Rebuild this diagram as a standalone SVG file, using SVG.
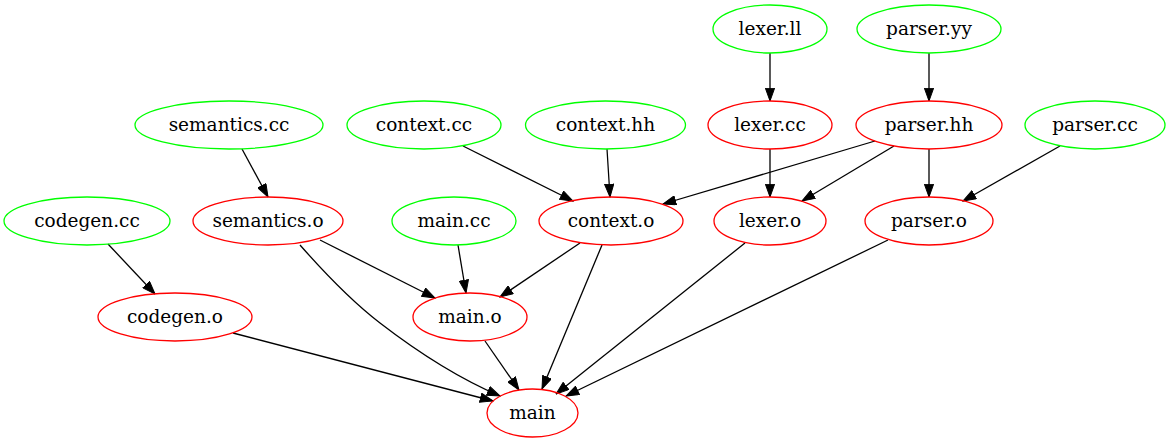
<svg xmlns="http://www.w3.org/2000/svg" width="1171" height="443" viewBox="0 0 1171 443">
<style>
.src ellipse{fill:none;stroke:#00ff00;stroke-width:1.3}
.obj ellipse{fill:none;stroke:#ff0000;stroke-width:1.3}
text{font-family:"DejaVu Serif",serif;font-size:18.5px;fill:#000;text-anchor:middle}
#edges path{fill:none;stroke:#000;stroke-width:1.3;marker-end:url(#arr)}
</style>
<defs>
<marker id="arr" viewBox="0 0 14 10" refX="13.3" refY="5" markerWidth="14" markerHeight="10" markerUnits="userSpaceOnUse" orient="auto">
<path d="M0.5,0.4 L13.3,5 L0.5,9.6 z" fill="#000" stroke="#000" stroke-width="1"/>
</marker>
</defs>
<rect width="1171" height="443" fill="#fff"/>
<g id="edges">
<path d="M770,53 L770,101"/>
<path d="M929,53 L929,101"/>
<path d="M242,149 L268,197"/>
<path d="M108,244 L155,294"/>
<path d="M463,146 L573,201"/>
<path d="M607,149 L610,197"/>
<path d="M875,141 L663,204"/>
<path d="M770,149 L770,197"/>
<path d="M894,146 L802,201"/>
<path d="M929,149 L929,197"/>
<path d="M1060,146 L963,201"/>
<path d="M320,240 L435,298"/>
<path d="M458,245 L466,293"/>
<path d="M580,243 L500,297"/>
<path d="M300,245 C322,270 350,300 380,323 C415,350 458,378 500,396"/>
<path d="M233,333 L493,401"/>
<path d="M485,341 L519,390"/>
<path d="M602,245 L542,389"/>
<path d="M745,243 L556,394"/>
<path d="M888,240 L566,396"/>
</g>
<g id="lexer_ll" class="src"><ellipse cx="770" cy="29" rx="57" ry="24"/><text x="770" y="35">lexer.ll</text></g>
<g id="parser_yy" class="src"><ellipse cx="929" cy="29" rx="72" ry="24"/><text x="929" y="35">parser.yy</text></g>
<g id="semantics_cc" class="src"><ellipse cx="229" cy="125" rx="94" ry="24"/><text x="229" y="131">semantics.cc</text></g>
<g id="context_cc" class="src"><ellipse cx="424" cy="125" rx="77" ry="24"/><text x="424" y="131">context.cc</text></g>
<g id="context_hh" class="src"><ellipse cx="605.5" cy="125" rx="80" ry="24"/><text x="605.5" y="131">context.hh</text></g>
<g id="lexer_cc" class="obj"><ellipse cx="770" cy="125" rx="62" ry="24"/><text x="770" y="131">lexer.cc</text></g>
<g id="parser_hh" class="obj"><ellipse cx="929" cy="125" rx="73" ry="24"/><text x="929" y="131">parser.hh</text></g>
<g id="parser_cc" class="src"><ellipse cx="1095" cy="125" rx="70" ry="24"/><text x="1095" y="131">parser.cc</text></g>
<g id="codegen_cc" class="src"><ellipse cx="87" cy="221" rx="83" ry="24"/><text x="87" y="227">codegen.cc</text></g>
<g id="semantics_o" class="obj"><ellipse cx="268" cy="221" rx="75" ry="24"/><text x="268" y="227">semantics.o</text></g>
<g id="main_cc" class="src"><ellipse cx="454" cy="221" rx="62" ry="24"/><text x="454" y="227">main.cc</text></g>
<g id="context_o" class="obj"><ellipse cx="611" cy="221" rx="72" ry="24"/><text x="611" y="227">context.o</text></g>
<g id="lexer_o" class="obj"><ellipse cx="770" cy="221" rx="56" ry="24"/><text x="770" y="227">lexer.o</text></g>
<g id="parser_o" class="obj"><ellipse cx="929" cy="221" rx="64" ry="24"/><text x="929" y="227">parser.o</text></g>
<g id="codegen_o" class="obj"><ellipse cx="175" cy="317" rx="77" ry="24"/><text x="175" y="323">codegen.o</text></g>
<g id="main_o" class="obj"><ellipse cx="470" cy="317" rx="57" ry="24"/><text x="470" y="323">main.o</text></g>
<g id="main" class="obj"><ellipse cx="532.5" cy="413" rx="45.5" ry="24"/><text x="532.5" y="419">main</text></g>
</svg>
